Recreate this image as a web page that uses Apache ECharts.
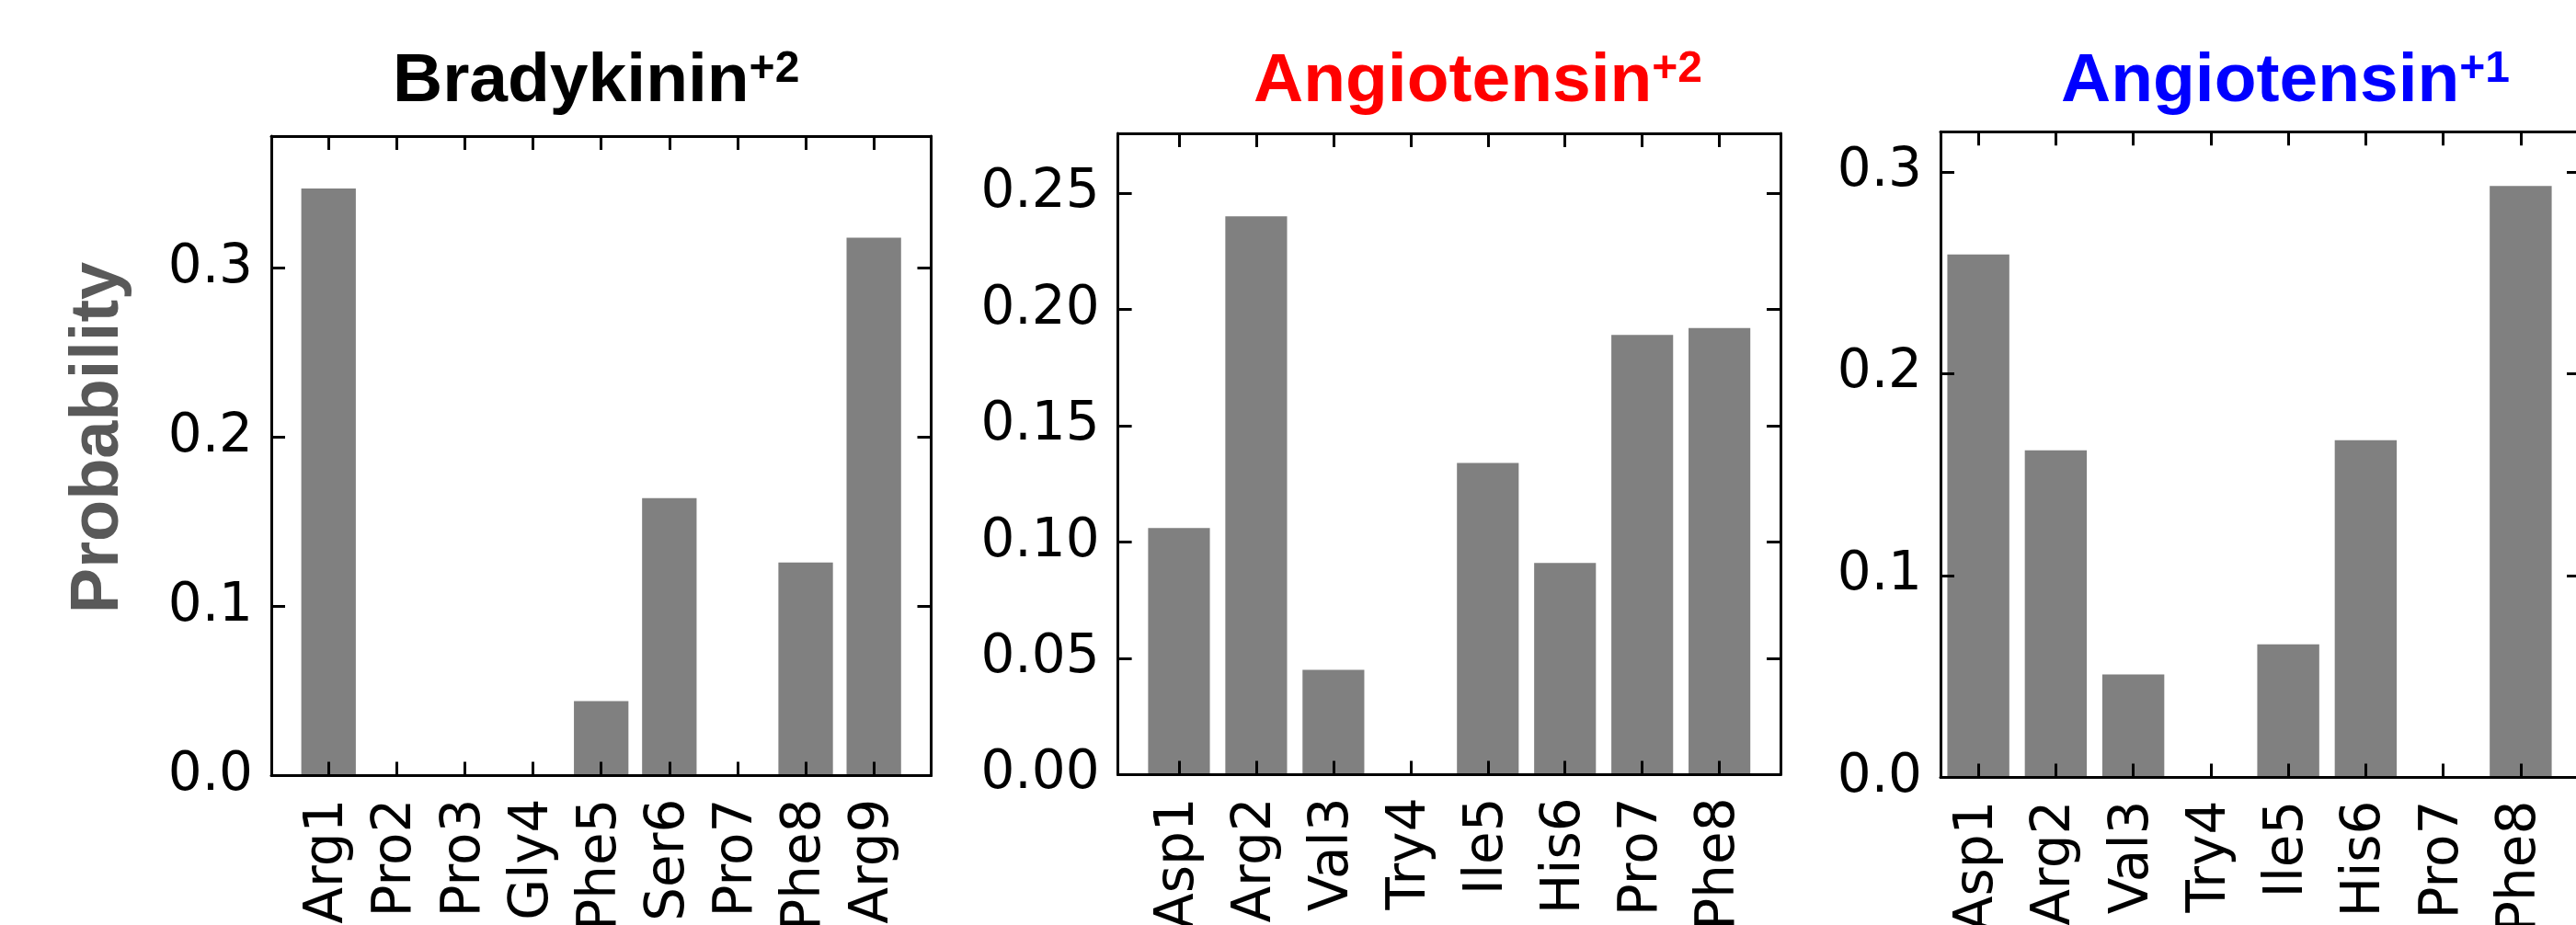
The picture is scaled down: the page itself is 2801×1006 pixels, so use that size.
<!DOCTYPE html>
<html>
<head>
<meta charset="utf-8">
<script src="https://cdn.jsdelivr.net/npm/echarts@6/dist/echarts.min.js"></script>
<style>
html,body{margin:0;padding:0;background:#fff;}
#chart{width:2801px;height:1006px;}
</style>
</head>
<body>
<div id="chart"></div>
<script>
// ---- data ----
const bradyCategories = ['Arg1','Pro2','Pro3','Gly4','Phe5','Ser6','Pro7','Phe8','Arg9'];
const bradyValues     = [0.347, 0, 0, 0, 0.044, 0.164, 0, 0.126, 0.318];

const angio2Categories = ['Asp1','Arg2','Val3','Try4','Ile5','His6','Pro7','Phe8'];
const angio2Values     = [0.106, 0.240, 0.045, 0, 0.134, 0.091, 0.189, 0.192];

const angio1Categories = ['Asp1','Arg2','Val3','Try4','Ile5','His6','Pro7','Phe8'];
const angio1Values     = [0.259, 0.162, 0.051, 0, 0.066, 0.167, 0, 0.293];

const panelTitles   = ['Bradykinin', 'Angiotensin', 'Angiotensin'];
const panelCharges  = ['+2', '+2', '+1'];
const yAxisMax      = [0.378, 0.2757, 0.3198];
const yTickInterval = [0.1, 0.05, 0.1];
const yTickDecimals = [1, 2, 1];
const yAxisTitle    = 'Probability';

// ---- layout / style ----
const titleColors = ['#000000', '#ff0000', '#0000ff'];
const titleLeft = [427, 1363, 2241];
const outer = [
  {left:295,    top:148,   width:717.5, height:695.5},
  {left:1215.6, top:145,   width:720.4, height:697.4},
  {left:2110,   top:143.3, width:696,   height:702.3}
];
const inner = [
  {left:320.2, width:667},
  {left:1240,  width:671.6},
  {left:2109,  width:674}
];
const panels = [
  {cats: bradyCategories,  vals: bradyValues},
  {cats: angio2Categories, vals: angio2Values},
  {cats: angio1Categories, vals: angio1Values}
];

const LW = 3, TL = 15;
const tickFont = {fontSize:58, fontFamily:'DejaVu Sans', color:'#000'};
const grids = [], xAxes = [], yAxes = [], series = [], titles = [];

panels.forEach((p, i) => {
  const o = outer[i];
  const gO = grids.length;
  grids.push({left:o.left, top:o.top, width:o.width, height:o.height, containLabel:false, outerBoundsMode:'none'});
  const gI = grids.length;
  grids.push({left:inner[i].left, top:o.top, width:inner[i].width, height:o.height, containLabel:false, outerBoundsMode:'none'});

  // outer frame x axes (bottom, top)
  ['bottom','top'].forEach(pos => {
    xAxes.push({type:'value', gridIndex:gO, position:pos, min:0, max:1, z:5,
      axisLine:{show:true, onZero:false, lineStyle:{color:'#000', width:LW}},
      axisTick:{show:false}, axisLabel:{show:false}, splitLine:{show:false}});
  });
  // outer frame y axes (left with labels, right ticks only)
  ['left','right'].forEach(pos => {
    yAxes.push({type:'value', gridIndex:gO, position:pos, min:0, max:yAxisMax[i], interval:yTickInterval[i], z:5,
      axisLine:{show:true, onZero:false, lineStyle:{color:'#000', width:LW}},
      axisTick:{show:true, inside:true, length:TL, lineStyle:{color:'#000', width:LW}},
      axisLabel: pos === 'left' ? Object.assign({show:true, margin:20, showMaxLabel:false,
        formatter: v => v.toFixed(yTickDecimals[i])}, tickFont) : {show:false},
      splitLine:{show:false}});
  });
  // inner category axes
  const xBottomIdx = xAxes.length;
  xAxes.push({type:'category', gridIndex:gI, position:'bottom', data:p.cats, z:5,
    axisLine:{show:false},
    axisTick:{show:true, inside:true, alignWithLabel:true, length:TL, lineStyle:{color:'#000', width:LW}},
    axisLabel:Object.assign({show:true, rotate:90, margin:25, interval:0}, tickFont),
    splitLine:{show:false}});
  xAxes.push({type:'category', gridIndex:gI, position:'top', data:p.cats, z:5,
    axisLine:{show:false},
    axisTick:{show:true, inside:true, alignWithLabel:true, length:TL, lineStyle:{color:'#000', width:LW}},
    axisLabel:{show:false}, splitLine:{show:false}});
  const yInnerIdx = yAxes.length;
  yAxes.push({type:'value', gridIndex:gI, min:0, max:yAxisMax[i], show:false, splitLine:{show:false}});

  series.push({type:'bar', xAxisIndex:xBottomIdx, yAxisIndex:yInnerIdx, data:p.vals,
    barCategoryGap:'20%', itemStyle:{color:'#808080'}, silent:true, animation:false});

  titles.push({left:titleLeft[i], top:51.5, padding:0,
    text:'{a|' + panelTitles[i] + '}{b|' + panelCharges[i] + '}',
    textStyle:{rich:{
      a:{fontSize:75, fontWeight:'bold', fontFamily:'Liberation Sans', color:titleColors[i], lineHeight:75},
      b:{fontSize:48, fontWeight:'bold', fontFamily:'Liberation Sans', color:titleColors[i], lineHeight:48, verticalAlign:'top'}
    }}});
});

const chart = echarts.init(document.getElementById('chart'), null, {renderer:'canvas'});
chart.setOption({
  backgroundColor:'#fff',
  animation:false,
  title:titles,
  grid:grids,
  xAxis:xAxes,
  yAxis:yAxes,
  series:series,
  graphic:[{type:'text', x:108, y:476, rotation:Math.PI/2,
    style:{text:yAxisTitle, fontSize:74, fontWeight:'bold', fontFamily:'Liberation Sans', fill:'#595959', align:'center', verticalAlign:'middle'}}]
});
</script>
</body>
</html>
